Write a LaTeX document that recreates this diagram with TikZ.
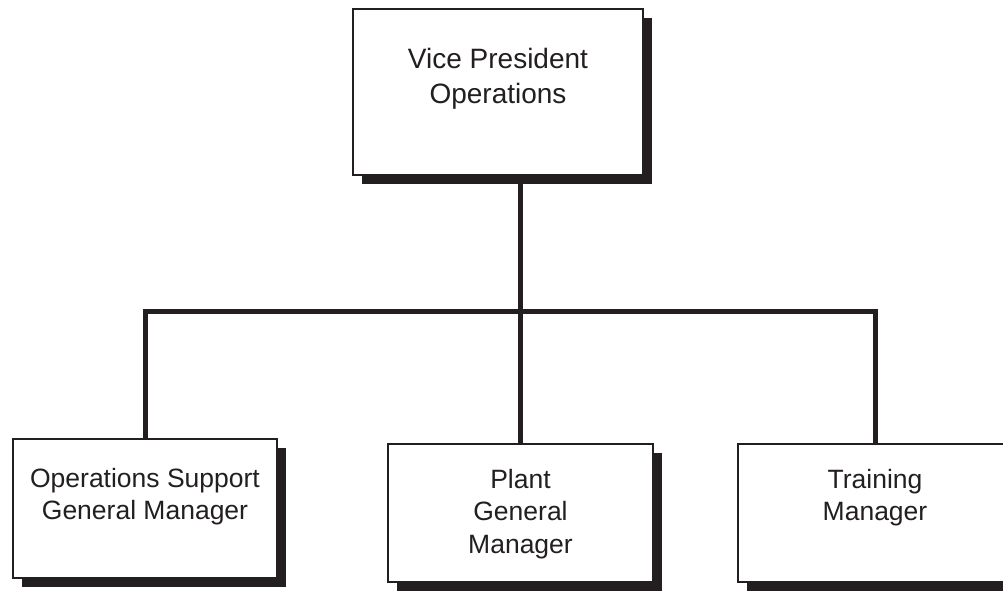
\documentclass[tikz,border=0pt]{standalone}
\usepackage{fontspec}
\setmainfont{Liberation Sans}
\usetikzlibrary{shadows,backgrounds}
\definecolor{ink}{HTML}{231F20}
\begin{document}
\begin{tikzpicture}[x=1pt,y=-1pt,
  orgbox/.style={rectangle, draw=ink, line width=2pt, fill=white, inner sep=0pt,
    drop shadow={opacity=1, fill=ink, shadow xshift=9pt, shadow yshift=-9pt}},
  link/.style={draw=ink, line width=5pt},
  boxtext/.style={anchor=north, inner sep=0pt, align=center, text=ink},
  toptext/.style={boxtext, font=\fontsize{28}{35}\selectfont},
  lowtext/.style={boxtext, font=\fontsize{26.5}{32.5}\selectfont}]
\useasboundingbox (0,0) rectangle (1003,591);
\clip (0,0) rectangle (1003,591);

% boxes with their titles
\node[orgbox, minimum width=290pt, minimum height=166pt] (vp) at (498,92) {};
\node[toptext] (vpt) at (498,48) {Vice President\\Operations};

\node[orgbox, minimum width=264pt, minimum height=139pt] (ops) at (145,508.5) {};
\node[lowtext] (opst) at (145,468) {Operations Support\\General Manager};

\node[orgbox, minimum width=265pt, minimum height=138pt] (plant) at (520.5,513) {};
\node[lowtext] (plantt) at (520.5,469) {Plant\\General\\Manager};

\node[orgbox, minimum width=274pt, minimum height=138pt] (train) at (875,513) {};
\node[lowtext] (traint) at (875,469) {Training\\Manager};

% level of the branch bar
\coordinate (bar) at (0,311);

% connectors behind the boxes
\begin{scope}[on background layer]
  \draw[link] (vp.south -| plant.north) -- (plant.north);
  \draw[link, line join=miter] (ops.north) -- (ops.north |- bar)
    -- (train.north |- bar) -- (train.north);
\end{scope}
\end{tikzpicture}
\end{document}
